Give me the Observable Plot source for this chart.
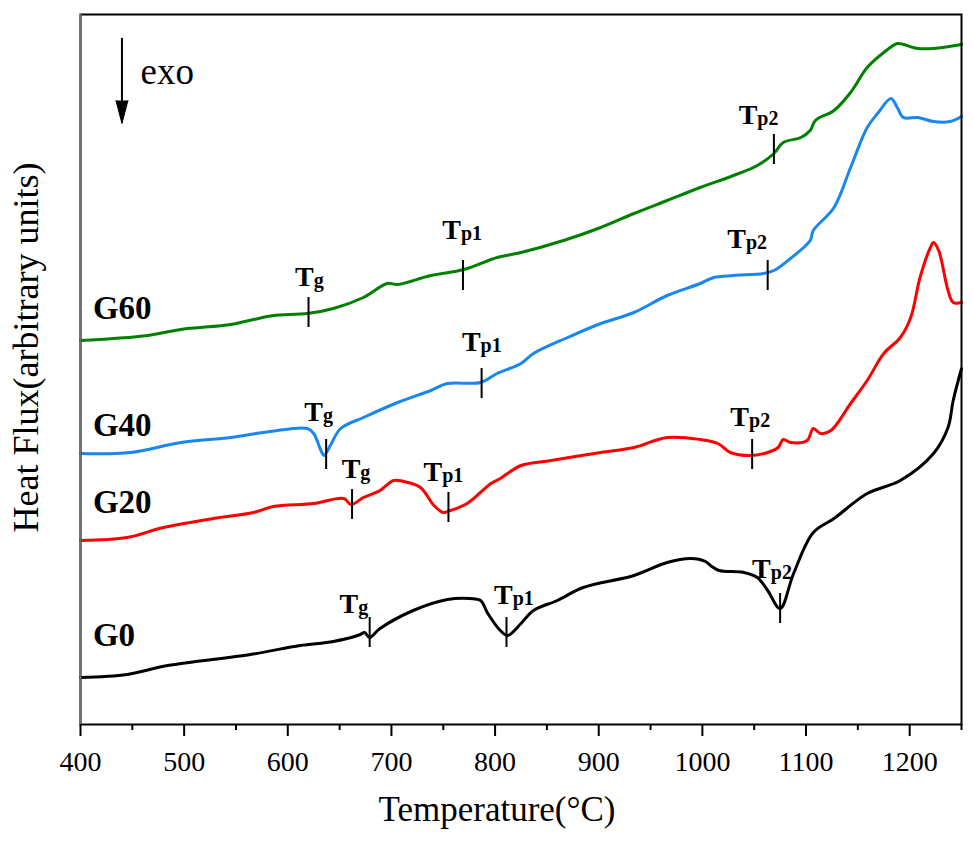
<!DOCTYPE html>
<html>
<head>
<meta charset="utf-8">
<script src="https://cdn.jsdelivr.net/npm/d3@7"></script>
<script src="https://cdn.jsdelivr.net/npm/@observablehq/plot@0.6"></script>
<style>
  html, body { margin: 0; padding: 0; background: #fff; }
  #chart { width: 974px; height: 841px; }
</style>
</head>
<body>
<div id="chart"></div>
<script>
// ---------- data (temperature in °C, heat flux in arbitrary units) ----------
const g0Temp = [400, 445, 484, 564, 612, 644, 670, 674, 679, 689, 721, 754, 776, 786, 793, 805, 812, 825, 837, 860, 885, 934, 966, 989, 1003, 1009, 1016, 1040, 1053, 1063, 1075, 1088, 1107, 1127, 1159, 1191, 1223, 1237, 1242, 1250];
const g0Flux = [47, 50, 59, 70, 79, 83, 90, 92, 87, 96, 114, 125, 126, 124, 111, 94, 89, 101, 114, 124, 137, 149, 162, 166, 163, 158, 154, 152, 147, 134, 116, 151, 192, 206, 231, 244, 271, 297, 324, 356];

const g20Temp = [400, 445, 480, 528, 567, 586, 625, 654, 661, 673, 689, 702, 712, 728, 741, 750, 757, 773, 796, 805, 825, 854, 902, 934, 966, 998, 1015, 1027, 1046, 1063, 1073, 1078, 1085, 1101, 1107, 1114, 1124, 1143, 1159, 1175, 1191, 1201, 1210, 1220, 1223, 1228, 1237, 1242, 1250];
const g20Flux = [184, 187, 197, 206, 212, 218, 221, 226, 220, 227, 234, 244, 243, 237, 219, 212, 214, 221, 241, 246, 259, 264, 272, 277, 287, 285, 281, 272, 269, 272, 277, 285, 282, 284, 296, 291, 294, 321, 344, 371, 387, 407, 447, 477, 482, 474, 434, 422, 422];

const g40Temp = [400, 448, 497, 545, 583, 619, 625, 632, 635, 641, 651, 673, 706, 738, 754, 786, 802, 825, 837, 870, 902, 934, 966, 998, 1011, 1030, 1059, 1069, 1085, 1104, 1107, 1127, 1143, 1159, 1169, 1182, 1188, 1194, 1208, 1223, 1239, 1250];
const g40Flux = [271, 272, 282, 287, 293, 296, 291, 274, 269, 279, 296, 307, 322, 334, 341, 342, 351, 361, 371, 387, 401, 412, 429, 441, 447, 449, 451, 454, 466, 484, 494, 517, 557, 597, 611, 626, 617, 607, 607, 603, 603, 608];

const g60Temp = [400, 432, 465, 497, 545, 567, 586, 619, 644, 673, 696, 706, 738, 770, 802, 825, 866, 902, 934, 966, 998, 1030, 1053, 1069, 1078, 1095, 1104, 1109, 1127, 1143, 1159, 1175, 1188, 1194, 1208, 1223, 1250];
const g60Flux = [384, 386, 389, 395, 400, 405, 409, 411, 416, 427, 441, 440, 449, 455, 467, 472, 484, 497, 511, 524, 537, 549, 559, 571, 582, 587, 594, 604, 614, 632, 657, 672, 681, 680, 676, 676, 680];

const seriesNames  = ["G60", "G40", "G20", "G0"];
const seriesColors = ["#008000", "#1a86f0", "#ff0000", "#000000"];
const seriesLabelLevel = [406, 289, 212, 79];
const seriesLabelTemp = 412;

// characteristic temperatures (marks) and their labels
const annSeries    = ["G60", "G60", "G60", "G40", "G40", "G40", "G20", "G20", "G20", "G0", "G0", "G0"];
const annSub       = ["g", "p1", "p2", "g", "p1", "p2", "g", "p1", "p2", "g", "p1", "p2"];
const annTemp      = [620, 769, 1069, 637, 787, 1063, 662, 755, 1048, 679, 811, 1075];
const annLevel     = [412, 449, 575, 270, 341, 449, 220, 217, 270, 92, 92, 116];
const annLabelTemp = [625, 767, 1053, 634, 786, 1042, 670, 749, 1045, 668, 817, 1066];
const annLabelLevel= [439, 486, 601, 304, 374, 477, 247, 244, 299, 112, 121, 147];

const majorTicks = [400, 500, 600, 700, 800, 900, 1000, 1100, 1200];
const minorTicks = [450, 550, 650, 750, 850, 950, 1050, 1150, 1250];

const exoArrow = {temp: 440, from: 686, to: 601, label: "exo", labelTemp: 458, labelLevel: 641};

// ---------- build tables ----------
const seriesData = [
  {name: "G0",  temp: g0Temp,  flux: g0Flux},
  {name: "G20", temp: g20Temp, flux: g20Flux},
  {name: "G40", temp: g40Temp, flux: g40Flux},
  {name: "G60", temp: g60Temp, flux: g60Flux}
];
const curveRows = seriesData.flatMap(s => s.temp.map((t, i) => ({name: s.name, t, v: s.flux[i]})));
const labelRows = seriesNames.map((n, i) => ({name: n, v: seriesLabelLevel[i]}));
const annRows = annTemp.map((t, i) => ({
  name: annSeries[i], sub: annSub[i], t, v: annLevel[i],
  lt: annLabelTemp[i], lv: annLabelLevel[i]
}));

const font = '"Liberation Serif", "Times New Roman", Times, serif';

const chart = Plot.plot({
  width: 974,
  height: 841,
  marginLeft: 80,
  marginRight: 13,
  marginTop: 14,
  marginBottom: 117,
  style: {fontFamily: font, background: "#fff", color: "#000", overflow: "visible"},
  x: {domain: [400, 1250]},
  y: {domain: [0, 710], axis: null},
  color: {domain: seriesNames, range: seriesColors},
  marks: [
    Plot.axisX({ticks: majorTicks, tickSize: 12, label: null, strokeWidth: 2, tickFormat: () => ""}),
    Plot.axisX({ticks: minorTicks, tickSize: 6, label: null, strokeWidth: 2, tickFormat: () => ""}),
    Plot.text(majorTicks, {x: d => d, frameAnchor: "bottom", text: d => String(d), textAnchor: "middle", lineAnchor: "bottom", dy: 46, fontSize: 28, fontFamily: font}),
    Plot.line(curveRows, {x: "t", y: "v", z: "name", stroke: "name", strokeWidth: 3, curve: "catmull-rom", strokeLinejoin: "round", strokeLinecap: "round"}),
    Plot.ruleX(annRows, {x: "t", y1: d => d.v - 15, y2: d => d.v + 15, stroke: "#000", strokeWidth: 2}),
    Plot.text(annRows, {x: "lt", y: "lv", text: () => "T", textAnchor: "end", lineAnchor: "bottom", fontSize: 28, fontWeight: "bold", fontFamily: font}),
    Plot.text(annRows, {x: "lt", y: "lv", text: "sub", textAnchor: "start", lineAnchor: "bottom", fontSize: 20, fontWeight: "bold", fontFamily: font, dy: 1}),
    Plot.text(labelRows, {x: seriesLabelTemp, y: "v", text: "name", textAnchor: "start", lineAnchor: "bottom", fontSize: 33, fontWeight: "bold", fontFamily: font}),
    Plot.ruleX([exoArrow], {x: "temp", y1: "from", y2: d => d.to + 15, stroke: "#000", strokeWidth: 2}),
    Plot.vector([exoArrow], {x: "temp", y: "to", length: 23, rotate: 180, anchor: "end", shape: "spike", r: 6, fill: "#000", stroke: "#000", strokeWidth: 1}),
    Plot.text([exoArrow], {x: "labelTemp", y: "labelLevel", text: "label", textAnchor: "start", lineAnchor: "bottom", fontSize: 37, fontFamily: font}),
    Plot.text(["Temperature(°C)"], {frameAnchor: "bottom", text: d => d, textAnchor: "middle", dx: -24, dy: 96, lineAnchor: "bottom", fontSize: 35, fontFamily: font}),
    Plot.text(["Heat Flux(arbitrary units)"], {frameAnchor: "left", text: d => d, textAnchor: "middle", rotate: -90, dx: -43, dy: -22, lineAnchor: "bottom", fontSize: 36, fontFamily: font}),
    Plot.frame({stroke: "#000", strokeWidth: 2}),
    Plot.ruleX([400], {stroke: "#6e6e6e", strokeWidth: 2})
  ]
});
document.getElementById("chart").appendChild(chart);
</script>
</body>
</html>
